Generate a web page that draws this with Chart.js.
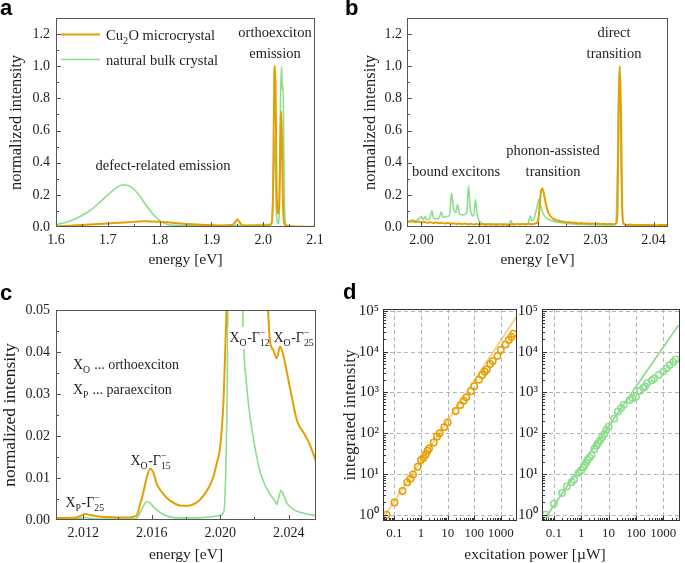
<!DOCTYPE html>
<html><head><meta charset="utf-8">
<script src="https://cdn.jsdelivr.net/npm/chart.js@4.4.0/dist/chart.umd.min.js"></script>
<style>
html,body{margin:0;padding:0;background:#fff;}
body{width:685px;height:563px;position:relative;overflow:hidden;}
canvas{position:absolute;}
.lbl{position:absolute;font:bold 22px "Liberation Sans",Arial,sans-serif;line-height:22px;color:#000;z-index:5;}
</style></head><body>
<canvas id="ca" width="330" height="275" style="left:0;top:0"></canvas>
<canvas id="cb" width="345" height="275" style="left:340px;top:0"></canvas>
<canvas id="cc" width="330" height="283" style="left:0;top:280px"></canvas>
<canvas id="cd1" width="345" height="283" style="left:340px;top:280px"></canvas>
<canvas id="cd2" width="190" height="283" style="left:495px;top:280px"></canvas>
<div class="lbl" style="left:0;top:-2.6px">a</div>
<div class="lbl" style="left:345px;top:-2.6px">b</div>
<div class="lbl" style="left:0;top:282.4px">c</div>
<div class="lbl" style="left:343px;top:281.4px">d</div>
<script>
// ---------------- DATA ----------------
// panel a: overview spectra
const aEnergyCu2O = [1.600,1.650,1.700,1.740,1.770,1.800,1.840,1.880,1.920,1.940,1.945,1.950,1.955,1.960,1.990,2.010,2.016,2.019,2.0215,2.0228,2.0240,2.0255,2.0272,2.0292,2.0315,2.0335,2.0344,2.0358,2.0378,2.0400,2.0450,2.0600,2.1000];
const aIntensityCu2O = [0.004,0.012,0.022,0.030,0.035,0.032,0.022,0.014,0.010,0.012,0.025,0.048,0.028,0.010,0.008,0.010,0.020,0.200,0.950,1.000,0.850,0.350,0.100,0.085,0.200,0.600,0.720,0.600,0.200,0.030,0.008,0.003,0.002];
const aEnergyBulk = [1.600,1.620,1.640,1.660,1.680,1.700,1.715,1.730,1.745,1.760,1.775,1.790,1.805,1.820,1.850,1.900,1.950,1.980,2.000,2.012,2.017,2.0205,2.0222,2.0238,2.026,2.029,2.031,2.0335,2.0355,2.037,2.0385,2.040,2.042,2.046,2.060,2.100];
const aIntensityBulk = [0.015,0.030,0.055,0.090,0.140,0.200,0.240,0.263,0.250,0.200,0.130,0.070,0.030,0.012,0.008,0.008,0.010,0.012,0.015,0.015,0.040,0.450,0.550,0.300,0.060,0.020,0.100,0.800,1.000,0.850,0.880,0.400,0.050,0.010,0.002,0.001];
const aTicksX = [1.6,1.7,1.8,1.9,2.0,2.1];
const aTicksY = [0.0,0.2,0.4,0.6,0.8,1.0,1.2];

// panel b: zoom on exciton region
const bEnergyCu2O = [1.9975,1.9980,1.9985,1.9990,1.9995,2.0000,2.0005,2.0010,2.0015,2.0020,2.0025,2.0030,2.0035,2.0040,2.0045,2.0050,2.0055,2.0060,2.0065,2.0070,2.0075,2.0080,2.0085,2.0090,2.0095,2.0100,2.0105,2.0110,2.0115,2.0120,2.0125,2.0130,2.0135,2.0140,2.0145,2.0150,2.0155,2.0160,2.0165,2.0170,2.0175,2.0180,2.0185,2.0190,2.0195,2.0199,2.0202,2.0204,2.0206,2.0208,2.0210,2.0213,2.0216,2.0220,2.0225,2.0230,2.0235,2.0240,2.0245,2.0250,2.0255,2.0260,2.0265,2.0270,2.0275,2.0280,2.0285,2.0290,2.0295,2.0300,2.0305,2.0310,2.0315,2.0320,2.0325,2.0330,2.0335,2.0338,2.0340,2.0342,2.0344,2.0346,2.0349,2.0355,2.0360,2.0365,2.0370,2.0375,2.0380,2.0385,2.0390,2.0395,2.0400,2.0405,2.0410,2.0415,2.0420,2.0425];
const bIntensityCu2O = [0.036,0.032,0.035,0.030,0.034,0.029,0.031,0.027,0.030,0.025,0.028,0.024,0.026,0.022,0.025,0.021,0.023,0.019,0.022,0.018,0.021,0.017,0.020,0.016,0.019,0.015,0.018,0.014,0.017,0.014,0.016,0.013,0.017,0.014,0.016,0.013,0.017,0.015,0.018,0.015,0.019,0.016,0.020,0.017,0.021,0.026,0.060,0.150,0.220,0.240,0.225,0.170,0.120,0.080,0.058,0.046,0.041,0.036,0.033,0.030,0.029,0.026,0.027,0.023,0.025,0.021,0.023,0.020,0.022,0.019,0.021,0.018,0.020,0.017,0.019,0.017,0.020,0.100,0.750,1.000,0.700,0.120,0.020,0.013,0.015,0.012,0.014,0.011,0.013,0.011,0.014,0.011,0.013,0.010,0.013,0.011,0.013,0.011];
const bEnergyBulk = [1.9975,1.9980,1.9985,1.9990,1.9995,2.0000,2.0003,2.0006,2.0009,2.0014,2.0018,2.0021,2.0027,2.0031,2.0034,2.0037,2.0043,2.0048,2.0052,2.0055,2.0059,2.0062,2.0066,2.0072,2.0078,2.0081,2.0084,2.0088,2.0090,2.0093,2.0096,2.0100,2.0105,2.0110,2.0115,2.0120,2.0125,2.0130,2.0135,2.0140,2.0145,2.0152,2.0154,2.0157,2.0165,2.0175,2.0183,2.0186,2.0188,2.0190,2.0194,2.0196,2.0199,2.0202,2.0205,2.0209,2.0214,2.0220,2.0228,2.0238,2.0250,2.0265,2.0280,2.0300,2.0320,2.0335,2.0338,2.0341,2.0344,2.0347,2.0360,2.0380,2.0400,2.0425];
const bIntensityBulk = [0.040,0.036,0.045,0.038,0.050,0.065,0.045,0.065,0.045,0.050,0.100,0.055,0.050,0.060,0.095,0.060,0.065,0.070,0.210,0.120,0.090,0.140,0.080,0.075,0.090,0.255,0.120,0.070,0.070,0.170,0.080,0.035,0.022,0.020,0.018,0.021,0.018,0.020,0.017,0.020,0.017,0.020,0.040,0.020,0.018,0.020,0.020,0.050,0.070,0.040,0.050,0.080,0.120,0.170,0.140,0.090,0.060,0.045,0.035,0.028,0.022,0.018,0.016,0.014,0.013,0.015,0.400,1.000,0.400,0.020,0.010,0.009,0.009,0.010];
const bTicksX = [2.00,2.01,2.02,2.03,2.04];
const bTicksY = [0.0,0.2,0.4,0.6,0.8,1.0,1.2];

// panel c: phonon-assisted lines
const cEnergyCu2O = [2.0104,2.0110,2.0116,2.0119,2.0121,2.0124,2.0128,2.0133,2.0140,2.0147,2.0151,2.0153,2.0155,2.0157,2.0159,2.0161,2.0163,2.0166,2.0169,2.0173,2.0177,2.0181,2.0184,2.0187,2.0190,2.0193,2.0196,2.0198,2.0200,2.0202,2.0203,2.0204,2.0210,2.0216,2.0222,2.0226,2.0228,2.0229,2.0231,2.0233,2.0235,2.0237,2.0241,2.0245,2.0249,2.0252,2.0254,2.0256];
const cIntensityCu2O = [0.0005,0.0005,0.0006,0.0011,0.0014,0.0012,0.0009,0.0007,0.0006,0.0006,0.0010,0.0035,0.0065,0.0100,0.0122,0.0112,0.0085,0.0066,0.0052,0.0040,0.0034,0.0034,0.0037,0.0044,0.0057,0.0075,0.0103,0.0135,0.0175,0.0290,0.0413,0.0550,0.2000,0.2400,0.1300,0.0700,0.0500,0.0429,0.0405,0.0385,0.0413,0.0390,0.0310,0.0235,0.0206,0.0183,0.0162,0.0139];
const cEnergyBulk = [2.0104,2.0110,2.0116,2.0119,2.0121,2.0124,2.0130,2.0140,2.0150,2.0152,2.0154,2.0156,2.0157,2.0159,2.0162,2.0166,2.0170,2.0176,2.0185,2.0193,2.0199,2.0202,2.0203,2.0204,2.02045,2.0206,2.0210,2.0213,2.02137,2.0215,2.0217,2.0220,2.0223,2.0226,2.0229,2.0232,2.0233,2.0234,2.02355,2.0237,2.0239,2.0242,2.0247,2.0252,2.0256];
const cIntensityBulk = [0.0002,0.0002,0.0003,0.0005,0.0006,0.0004,0.0002,0.0002,0.0002,0.0008,0.0025,0.0040,0.0044,0.0040,0.0027,0.0015,0.0008,0.0005,0.0005,0.0007,0.0010,0.0018,0.0080,0.0286,0.0500,0.2000,0.5000,0.0600,0.0420,0.0340,0.0260,0.0180,0.0120,0.0085,0.0062,0.0045,0.0037,0.0050,0.0070,0.0060,0.0040,0.0027,0.0018,0.0013,0.0010];
const cTicksX = [2.012,2.016,2.020,2.024];
const cTicksY = [0.00,0.01,0.02,0.03,0.04,0.05];

// panel d: power series
const dPowerCu2O = [0.05,0.1,0.2,0.3,0.4,0.5,0.75,1,1.25,1.5,1.75,2,3,4,5,7.5,10,20,30,40,50,75,100,150,200,250,300,400,500,750,1000,1500,2000,2500,3000];
const dIntensityCu2O = [1,2,3.8,6.2,7.6,9.7,15,22,25,30,37,42,59,83,100,141,183,350,490,630,760,1070,1420,2050,2700,3250,3700,5000,5900,7900,11000,15000,19500,23000,27700];
const dFitPowerCu2O = [0.041,4000];
const dFitIntensityCu2O = [0.9,75000];
const dPowerBulk = [0.05,0.1,0.2,0.3,0.45,0.55,0.8,1,1.2,1.35,1.55,1.7,2,2.4,3,3.6,4.1,4.9,5.8,7,8.3,10,16,22,29,36,59,75,100,140,185,215,260,380,470,680,1000,1300,1700,2300,2800];
const dIntensityBulk = [1,1.86,3.4,4.9,6.3,7.2,10.5,12.2,14.7,16.8,19,22,25.5,29,41,49,57,66,80,95,120,145,230,340,420,500,650,720,800,1100,1300,1400,1700,2000,2200,2700,3300,3900,4700,5600,6500];
const dFitPowerBulk = [0.05,3600];
const dFitIntensityBulk = [0.85,45000];
const dTicksX = [0.1,1,10,100,1000];
const dTickLabelsX = ['0.1','1','10','100','1000'];
const dTicksY = [1,10,100,1000,10000,100000];
const dTickLabelsY = ['10\u2070','10\u00b9','10\u00b2','10\u00b3','10\u2074','10\u2075'];

// ---------------- STYLE / HELPERS ----------------
const SERIF = '"Liberation Serif","Times New Roman",serif';
const ORANGE = '#E69F00';
const GREEN = 'rgb(140,221,140)';
const TXT = '#1e1e1e';
Chart.defaults.font.family = SERIF;
Chart.defaults.color = TXT;
Chart.defaults.animation = false;

const pts = (xs, ys) => xs.map((x, i) => ({x: x, y: ys[i]}));

function axis(o) {
  return {
    type: o.log ? 'logarithmic' : 'linear',
    min: o.min, max: o.max,
    grid: {display: false, drawTicks: false},
    border: {display: false},
    ticks: {autoSkip: false, maxRotation: 0, minRotation: 0, padding: o.pad,
      font: {size: o.tickSize || 14}, color: TXT,
      callback: (v, i) => o.labels[i]},
    afterBuildTicks: s => { s.ticks = o.ticks.map(v => ({value: v})); },
    afterFit: s => { if (o.horiz) s.height = o.size; else s.width = o.size; },
    title: o.title ? {display: true, text: o.title, color: TXT,
      font: {size: o.titleSize, lineHeight: 1}, padding: o.titlePad} : {display: false}
  };
}

function rich(ctx, parts, x, y, size, align) {
  const f = s => s + 'px ' + SERIF;
  let w = 0; const widths = [];
  parts.forEach(p => {
    let pw;
    if (p.t !== undefined) { ctx.font = f(size); pw = ctx.measureText(p.t).width; }
    else { ctx.font = f(size * 0.7); pw = Math.max(p.sup ? ctx.measureText(p.sup).width : 0, p.sub ? ctx.measureText(p.sub).width : 0) + 0.5; }
    widths.push(pw); w += pw;
  });
  let cx = align === 'center' ? x - w / 2 : x;
  ctx.fillStyle = TXT; ctx.textAlign = 'left'; ctx.textBaseline = 'alphabetic';
  parts.forEach((p, i) => {
    if (p.t !== undefined) { ctx.font = f(size); ctx.fillText(p.t, cx, y); }
    else {
      ctx.font = f(size * 0.7);
      if (p.sup) ctx.fillText(p.sup, cx, y - size * 0.42);
      if (p.sub) ctx.fillText(p.sub, cx, y + size * 0.3);
    }
    cx += widths[i];
  });
  return w;
}
function text(ctx, s, x, y, size, align) {
  ctx.font = size + 'px ' + SERIF; ctx.fillStyle = TXT;
  ctx.textAlign = align || 'left'; ctx.textBaseline = 'alphabetic';
  ctx.fillText(s, x, y);
}
function range(a, b, step) { const r = []; for (let v = a; v <= b + step * 1e-6; v += step) r.push(+v.toFixed(6)); return r; }
function logMinors(lo, hi) { const r = []; for (let e = Math.floor(Math.log10(lo)); e <= Math.ceil(Math.log10(hi)); e++) for (let k = 2; k <= 9; k++) { const v = k * Math.pow(10, e); if (v > lo && v < hi) r.push(v); } return r; }

const DECO = {
  ca: {frame: '#555', majX: aTicksX, minX: range(1.65, 2.05, 0.1), majY: aTicksY, minY: range(0.1, 1.3, 0.2),
    annotate(ch) {
      const c = ch.ctx;
      c.save(); c.lineWidth = 2; c.strokeStyle = ORANGE; c.beginPath(); c.moveTo(61, 34.5); c.lineTo(100, 34.5); c.stroke();
      c.lineWidth = 1.5; c.strokeStyle = GREEN; c.beginPath(); c.moveTo(61, 59.5); c.lineTo(100, 59.5); c.stroke();
      rich(c, [{t: 'Cu'}, {sub: '2'}, {t: 'O microcrystal'}], 106, 39.5, 14.5);
      text(c, 'natural bulk crystal', 106, 64.5, 14.5);
      text(c, 'orthoexciton', 275, 37, 14.5, 'center');
      text(c, 'emission', 275, 57.5, 14.5, 'center');
      text(c, 'defect-related emission', 163, 170, 14.5, 'center');
      c.restore();
    }},
  cb: {frame: '#555', majX: bTicksX, minX: range(2.005, 2.035, 0.01), majY: bTicksY, minY: range(0.1, 1.3, 0.2),
    annotate(ch) {
      const c = ch.ctx; c.save();
      text(c, 'direct', 274, 37, 14.5, 'center');
      text(c, 'transition', 274, 58, 14.5, 'center');
      text(c, 'phonon-assisted', 213, 154.5, 14.5, 'center');
      text(c, 'transition', 213, 176, 14.5, 'center');
      text(c, 'bound excitons', 116, 176, 14.5, 'center');
      c.restore();
    }},
  cc: {frame: '#555', majX: cTicksX, minX: [2.014, 2.018, 2.022], majY: cTicksY, minY: range(0.005, 0.045, 0.01),
    annotate(ch) {
      const c = ch.ctx; c.save();
      rich(c, [{t: 'X'}, {sub: 'O'}, {t: ' ... orthoexciton'}], 73, 88.5, 14);
      rich(c, [{t: 'X'}, {sub: 'P'}, {t: ' ... paraexciton'}], 73, 113.5, 14);
      rich(c, [{t: 'X'}, {sub: 'O'}, {t: '-\u0393'}, {sup: '\u2212', sub: '15'}], 130.5, 185, 14);
      rich(c, [{t: 'X'}, {sub: 'P'}, {t: '-\u0393'}, {sup: '\u2212', sub: '25'}], 65.5, 226.5, 14);
      c.fillStyle = '#fff'; c.fillRect(228, 47, 40, 22);
      rich(c, [{t: 'X'}, {sub: 'O'}, {t: '-\u0393'}, {sup: '\u2212', sub: '12'}], 229.5, 61.5, 14);
      rich(c, [{t: 'X'}, {sub: 'O'}, {t: '-\u0393'}, {sup: '\u2212', sub: '25'}], 273.5, 61.5, 14);
      c.restore();
    }},
  cd1: {frame: '#333', grid: {x: dTicksX, y: dTicksY}, majX: dTicksX, minX: logMinors(0.037, 3900), majY: dTicksY, minY: logMinors(0.71, 1.12e5),
    annotate(ch) {
      const c = ch.ctx; c.save();
      text(c, 'excitation power [\u00b5W]', 195, 279, 15.5, 'center');
      c.restore();
    }},
  cd2: {frame: '#333', grid: {x: dTicksX, y: dTicksY}, majX: dTicksX, minX: logMinors(0.037, 3900), majY: dTicksY, minY: logMinors(0.71, 1.12e5)}
};

const decoPlugin = {
  id: 'deco',
  beforeDatasetsDraw(chart) {
    const d = DECO[chart.canvas.id]; if (!d || !d.grid) return;
    const {ctx, chartArea: ca} = chart; const xs = chart.scales.x, ys = chart.scales.y;
    ctx.save(); ctx.strokeStyle = '#b4b4b4'; ctx.lineWidth = 1; ctx.setLineDash([4, 3]);
    ctx.beginPath();
    d.grid.x.forEach(v => { const p = Math.round(xs.getPixelForValue(v)) + 0.5; ctx.moveTo(p, ca.top); ctx.lineTo(p, ca.bottom); });
    d.grid.y.forEach(v => { const p = Math.round(ys.getPixelForValue(v)) + 0.5; ctx.moveTo(ca.left, p); ctx.lineTo(ca.right, p); });
    ctx.stroke(); ctx.restore();
  },
  afterDatasetsDraw(chart) {
    const d = DECO[chart.canvas.id]; if (!d) return;
    const {ctx, chartArea: ca} = chart; const xs = chart.scales.x, ys = chart.scales.y;
    ctx.save();
    ctx.strokeStyle = d.frame; ctx.lineWidth = 1; ctx.setLineDash([]);
    ctx.strokeRect(Math.round(ca.left) + 0.5, Math.round(ca.top) + 0.5, Math.round(ca.right - ca.left) - 1, Math.round(ca.bottom - ca.top) - 1);
    ctx.beginPath();
    const tx = (vals, len) => vals.forEach(v => { const p = Math.round(xs.getPixelForValue(v)) + 0.5; if (p > ca.left + 1 && p < ca.right - 1) { ctx.moveTo(p, ca.bottom); ctx.lineTo(p, ca.bottom - len); } });
    const ty = (vals, len) => vals.forEach(v => { const p = Math.round(ys.getPixelForValue(v)) + 0.5; if (p > ca.top + 1 && p < ca.bottom - 1) { ctx.moveTo(ca.left, p); ctx.lineTo(ca.left + len, p); } });
    tx(d.majX, 5); tx(d.minX, 3); ty(d.majY, 5); ty(d.minY, 3);
    ctx.stroke();
    ctx.restore();
    if (d.annotate) d.annotate(chart);
  }
};

function lineDS(data, color, width) {
  return {data: data, borderColor: color, borderWidth: width, pointRadius: 0, fill: false,
    cubicInterpolationMode: 'monotone', borderJoinStyle: 'round', borderCapStyle: 'round'};
}
function spectrum(id, datasets, xo, yo, pad) {
  return new Chart(document.getElementById(id), {
    type: 'line',
    data: {datasets: datasets},
    options: {responsive: false, animation: false, events: [], parsing: true,
      layout: {padding: pad},
      plugins: {legend: {display: false}, tooltip: {enabled: false}},
      scales: {x: axis(xo), y: axis(yo)}},
    plugins: [decoPlugin]
  });
}

// panel a
spectrum('ca', [
  lineDS(pts(aEnergyCu2O, aIntensityCu2O), ORANGE, 2),
  lineDS(pts(aEnergyBulk, aIntensityBulk), GREEN, 1.6)
], {horiz: true, min: 1.6, max: 2.1, ticks: aTicksX, labels: aTicksX.map(v => v.toFixed(1)), pad: 5, size: 48,
    title: 'energy [eV]', titleSize: 15.5, titlePad: {top: 0, bottom: 7}},
   {min: 0, max: 1.3, ticks: aTicksY, labels: aTicksY.map(v => v.toFixed(1)), pad: 6, size: 56,
    title: 'normalized intensity', titleSize: 16.5, titlePad: {top: 8.5, bottom: 0}},
   {top: 18, right: 15, left: 0, bottom: 0});

// panel b
spectrum('cb', [
  lineDS(pts(bEnergyCu2O, bIntensityCu2O), ORANGE, 2),
  lineDS(pts(bEnergyBulk, bIntensityBulk), GREEN, 1.6)
], {horiz: true, min: 1.9975, max: 2.0425, ticks: bTicksX, labels: bTicksX.map(v => v.toFixed(2)), pad: 5, size: 48,
    title: 'energy [eV]', titleSize: 15.5, titlePad: {top: 0, bottom: 7}},
   {min: 0, max: 1.3, ticks: bTicksY, labels: bTicksY.map(v => v.toFixed(1)), pad: 5, size: 67,
    title: 'normalized intensity', titleSize: 16.5, titlePad: {top: 22, bottom: 0}},
   {top: 18, right: 17, left: 0, bottom: 0});

// panel c
spectrum('cc', [
  lineDS(pts(cEnergyCu2O, cIntensityCu2O), ORANGE, 2),
  lineDS(pts(cEnergyBulk, cIntensityBulk), GREEN, 1.6)
], {horiz: true, min: 2.0104, max: 2.0256, ticks: cTicksX, labels: cTicksX.map(v => v.toFixed(3)), pad: 5, size: 43,
    title: 'energy [eV]', titleSize: 15.5, titlePad: {top: 0, bottom: 0}},
   {min: 0, max: 0.05, ticks: cTicksY, labels: cTicksY.map(v => v.toFixed(2)), pad: 6, size: 56,
    title: 'normalized intensity', titleSize: 17.5, titlePad: {top: 1.5, bottom: 0}},
   {top: 30, right: 14, left: 0, bottom: 0});

// panel d
function powerChart(id, P, I, FP, FI, color, fitColor, yo, pad) {
  return new Chart(document.getElementById(id), {
    type: 'scatter',
    data: {datasets: [
      {data: pts(P, I), borderColor: color, backgroundColor: 'rgba(0,0,0,0)', pointRadius: 3.2, pointBorderWidth: 1.5, showLine: false},
      {data: pts(FP, FI), borderColor: fitColor, borderWidth: 1.6, pointRadius: 0, showLine: true}
    ]},
    options: {responsive: false, animation: false, events: [],
      layout: {padding: pad},
      plugins: {legend: {display: false}, tooltip: {enabled: false}},
      scales: {
        x: axis({horiz: true, log: true, min: 0.037, max: 3900, ticks: dTicksX, labels: dTickLabelsX, pad: 5, size: 42, tickSize: 13}),
        y: axis(Object.assign({log: true, min: 0.71, max: 1.12e5, ticks: dTicksY, labels: dTickLabelsY, pad: 4, tickSize: 15}, yo))
      }},
    plugins: [decoPlugin]
  });
}
powerChart('cd1', dPowerCu2O, dIntensityCu2O, dFitPowerCu2O, dFitIntensityCu2O, ORANGE, 'rgba(236,170,40,0.6)',
  {size: 43, title: 'integrated intensity', titleSize: 17, titlePad: {top: 2, bottom: 0}}, {top: 29, right: 168.5, left: 0, bottom: 0});
powerChart('cd2', dPowerBulk, dIntensityBulk, dFitPowerBulk, dFitIntensityBulk, GREEN, 'rgb(130,215,130)',
  {size: 47}, {top: 29, right: 1.5, left: 0, bottom: 0});
</script>
</body></html>
